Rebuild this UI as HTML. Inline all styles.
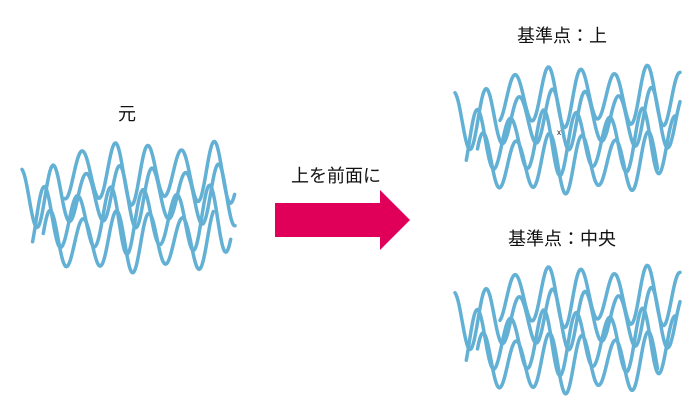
<!DOCTYPE html>
<html><head><meta charset="utf-8"><style>
body{margin:0;background:#fff;width:700px;height:420px;overflow:hidden}
svg{display:block}
text{font-family:"Liberation Sans","Noto Sans CJK JP",sans-serif;font-size:18px;fill:#111}
</style></head><body>
<svg id="s" width="700" height="420" viewBox="0 0 700 420">
<text x="127" y="120" text-anchor="middle">元</text>
<text x="336" y="182" text-anchor="middle">上を前面に</text>
<text x="562" y="42" text-anchor="middle">基準点：上</text>
<text x="562" y="245" text-anchor="middle">基準点：中央</text>
<polygon points="275,203 380,203 380,190 410,220 380,250 380,237 275,237" fill="#e0005a"/>
<g id="w" fill="none" stroke="#63b0d5" stroke-width="3.5" stroke-linecap="round"></g>
<text x="557" y="135" style="font-size:8px">x</text>
</svg>
<script>
var g=document.getElementById('w');
function grp(ox,oy,w,h){
 var rows=[[0.2,0.25,1.0,0.24,1.1],[0.0,0.42,1.0,0.24,0.3],[0.05,0.6,0.98,0.26,2.0],[0.1,0.76,0.9,0.24,0.9]];
 rows.forEach(function(r){
  var x0=ox+r[0]*w,x1=ox+r[2]*w,cy=oy+r[1]*h,A=r[3]*h,ph=r[4];
  var d='';
  for(var x=x0;x<=x1;x+=1){
   var t=(x-ox)/33*2*Math.PI+ph;
   var y=cy-A*Math.cos(t)*(0.85+0.15*Math.sin(t*0.37));
   d+=(d?'L':'M')+x.toFixed(1)+' '+y.toFixed(1);
  }
  var p=document.createElementNS('http://www.w3.org/2000/svg','path');
  p.setAttribute('d',d);g.appendChild(p);
 });
}
grp(22,140,213,133);
grp(455,64,225,130);
grp(455,264,225,130);
</script>
</body></html>
